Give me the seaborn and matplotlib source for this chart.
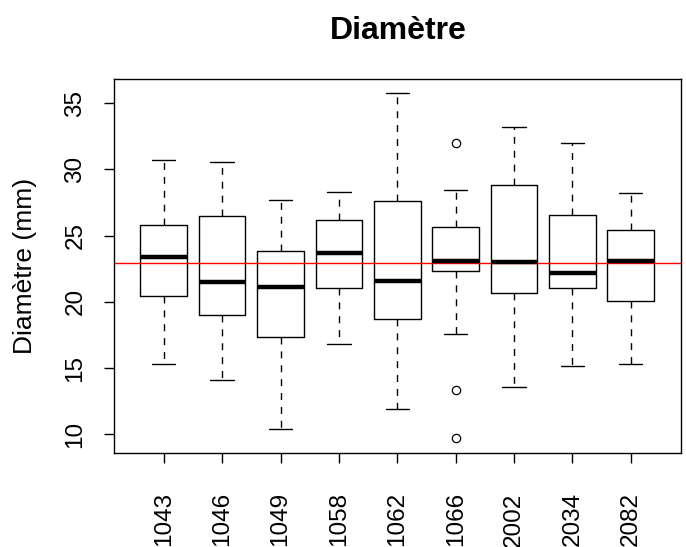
import numpy as np
import matplotlib
matplotlib.use("Agg")
import matplotlib.pyplot as plt
import seaborn as sns

# box statistics (mm)
groups = ["1043", "1046", "1049", "1058", "1062", "1066", "2002", "2034", "2082"]
whislo = [15.31, 14.10, 10.40, 16.85, 11.93, 17.58, 13.60, 15.13, 15.31]
q1 = [20.45, 19.01, 17.37, 21.05, 18.71, 22.31, 20.65, 21.05, 20.04]
med = [23.41, 21.48, 21.15, 23.72, 21.56, 23.11, 23.01, 22.18, 23.09]
q3 = [25.79, 26.49, 23.82, 26.16, 27.62, 25.66, 28.83, 26.59, 25.46]
whishi = [30.70, 30.59, 27.72, 28.32, 35.80, 28.43, 33.24, 32.03, 28.22]
fliers = [[], [], [], [], [], [32.03, 13.37, 9.70], [], [], []]
mean_line = 22.92

sns.set_style("ticks", {"text.color": "black", "axes.labelcolor": "black",
                        "xtick.color": "black", "ytick.color": "black",
                        "axes.edgecolor": "black"})
plt.rcParams['font.family'] = ['Liberation Sans', 'DejaVu Sans']

stats = []
for i, g in enumerate(groups):
    stats.append({"label": g, "whislo": whislo[i], "q1": q1[i], "med": med[i],
                  "q3": q3[i], "whishi": whishi[i], "fliers": fliers[i]})

fig = plt.figure(figsize=(6.86, 5.47), dpi=100)
ax = fig.add_axes([0.1655, 0.1724, 0.8272, 0.6826])

ax.bxp(stats, widths=0.8, capwidths=0.4, showfliers=True,
       boxprops=dict(color="black", linewidth=1.0),
       medianprops=dict(color="black", linewidth=3.2, solid_capstyle="butt"),
       whiskerprops=dict(color="black", linewidth=1.0, linestyle=(0, (5, 5))),
       capprops=dict(color="black", linewidth=1.0),
       flierprops=dict(marker="o", markersize=6, markerfacecolor="none",
                       markeredgecolor="black", markeredgewidth=0.9))

ax.axhline(mean_line, color="red", linewidth=1.0)

ax.set_xlim(0.14, 9.86)
ax.set_ylim(8.61, 36.81)
ax.set_yticks([10, 15, 20, 25, 30, 35])
ax.set_yticklabels(["10", "15", "20", "25", "30", "35"], rotation=90, va="center")
ax.set_xticks(range(1, 10))
ax.set_xticklabels(groups, rotation=90)
ax.tick_params(axis="both", labelsize=17.5, length=7.5, width=1, color="black",
               labelcolor="black")
ax.tick_params(axis="x", pad=21)
ax.tick_params(axis="y", pad=12)
for s in ax.spines.values():
    s.set_visible(True)
    s.set_linewidth(1.0)
    s.set_color("black")

ax.set_ylabel("Diamètre (mm)", fontsize=19, labelpad=20, color="black")
fig.suptitle("Diamètre", fontsize=23, fontweight="bold", x=0.58, y=0.97,
             color="black")

fig.savefig("out.png", dpi=100)
